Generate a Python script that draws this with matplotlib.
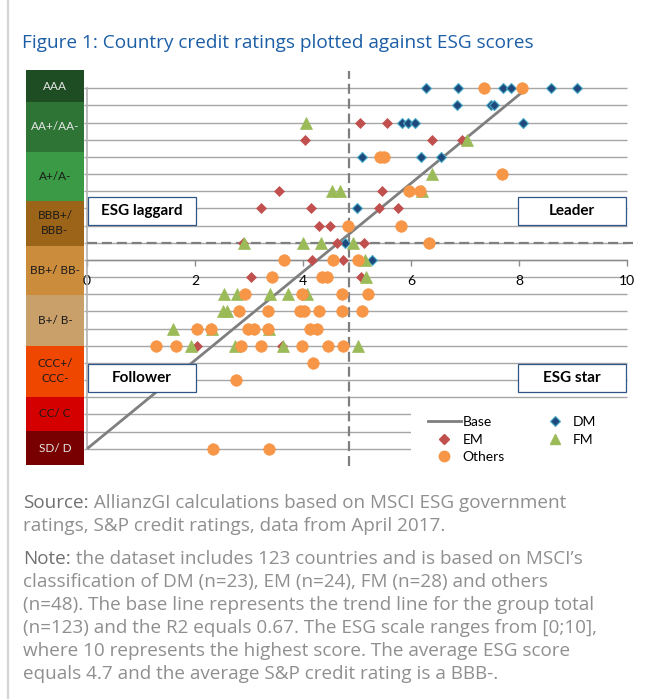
import matplotlib
matplotlib.use("Agg")
import matplotlib.pyplot as plt
from matplotlib.lines import Line2D
from matplotlib.patches import Rectangle

W, H, DPI = 646, 699, 100

# credit rating scale: SD/D = 0 ... AAA = 21, ESG score on x
dm_esg = [6.28, 6.87, 7.70, 7.85, 8.60, 9.07,
          6.86, 7.49, 7.54,
          5.83, 5.95, 6.07, 8.07,
          5.09, 6.18, 6.56,
          5.00, 4.78, 5.28]
dm_rating = [21, 21, 21, 21, 21, 21,
             20, 20, 20,
             19, 19, 19, 19,
             17, 17, 17,
             14, 12, 11]

em_esg = [5.06, 5.55,
          4.04, 6.38, 6.94,
          3.55, 5.46,
          3.22, 4.14, 5.41, 5.76,
          4.30, 4.50,
          2.89, 4.63, 5.13,
          4.17, 4.74,
          3.04, 5.07,
          2.04, 3.61]
em_rating = [19, 19,
             18, 18, 18,
             15, 15,
             14, 14, 14, 14,
             13, 13,
             12, 12, 12,
             11, 11,
             10, 10,
             6, 6]

fm_esg = [4.05, 7.03, 6.38,
          4.53, 4.68, 6.20,
          2.90, 4.00, 4.33, 4.93,
          5.15, 5.16,
          2.54, 2.77, 3.39, 3.73, 4.07,
          2.52, 2.60,
          1.59, 2.32, 3.37,
          1.93, 2.74, 3.63, 5.02]
fm_rating = [19, 18, 16,
             15, 15, 15,
             12, 12, 12, 12,
             11, 10,
             9, 9, 9, 9, 9,
             8, 8,
             7, 7, 7,
             6, 6, 6, 6]

oth_esg = [7.35, 8.05,
           5.43, 5.50,
           7.68,
           5.97, 6.17,
           4.83, 5.81,
           6.33,
           3.65, 4.55, 5.02,
           3.42, 4.35, 4.45,
           2.93, 3.98, 4.72, 5.20,
           2.81, 3.35, 3.94, 4.02, 4.30, 4.72, 5.09,
           2.04, 2.29, 2.98, 3.10, 3.35, 4.13, 4.25,
           1.28, 1.65, 2.85, 3.22, 3.98, 4.46, 4.74,
           4.19, 2.76,
           2.33, 3.37]
oth_rating = [21, 21,
              17, 17,
              16,
              15, 15,
              13, 13,
              12,
              11, 11, 11,
              10, 10, 10,
              9, 9, 9, 9,
              8, 8, 8, 8, 8, 8, 8,
              7, 7, 7, 7, 7, 7, 7,
              6, 6, 6, 6, 6, 6, 6,
              5, 4,
              0, 0]

base_esg = [0.0, 8.15]
base_rating = [0, 21]

avg_esg = 4.86
avg_rating = 12

rating_levels = list(range(22))
x_ticks = [0, 2, 4, 6, 8, 10]

band_labels = ["SD/ D", "CC/ C", "CCC+/\nCCC-", "B+/ B-", "BB+/ BB-",
               "BBB+/\nBBB-", "A+/A-", "AA+/AA-", "AAA"]
band_edges = [-0.97, 1.06, 3.04, 6.01, 8.94, 11.83, 14.43, 17.29, 20.2, 22.05]
band_colors = ["#780000", "#d40000", "#ef4600", "#c99f6a", "#cb8c3c",
               "#9c6418", "#3b9a46", "#2e7535", "#1e4d24"]
band_text = ["#e6e6e6", "#1a1a1a", "#1a1a1a", "#1a1a1a", "#1a1a1a",
             "#1a1a1a", "#1a1a1a", "#e6e6e6", "#e6e6e6"]

quadrants = [("ESG laggard", 0.02, 13.05), ("Leader", 7.98, 13.05),
             ("Follower", 0.02, 3.32), ("ESG star", 7.98, 3.32)]

title = "Figure 1: Country credit ratings plotted against ESG scores"
notes = [
    ("Source:", " AllianzGI calculations based on MSCI ESG government"),
    ("", "ratings, S&P credit ratings, data from April 2017."),
    ("Note:", " the dataset includes 123 countries and is based on MSCI\u2019s"),
    ("", "classification of DM (n=23), EM (n=24), FM (n=28) and others"),
    ("", "(n=48). The base line represents the trend line for the group total"),
    ("", "(n=123) and the R2 equals 0.67. The ESG scale ranges from [0;10],"),
    ("", "where 10 represents the highest score. The average ESG score"),
    ("", "equals 4.7 and the average S&P credit rating is a BBB-."),
]
note_y = [503, 526, 559, 582, 605, 628, 651, 674]

CHART_FONT = "Lato"
TEXT_FONT = "Open Sans"
NOTE_SIZE = 13.6
GRID = "#a6a6a6"


def px_box(left, top, right, bottom):
    return [left / W, 1 - bottom / H, (right - left) / W, (bottom - top) / H]


fig = plt.figure(figsize=(W / DPI, H / DPI), dpi=DPI)
fig.patch.set_facecolor("white")

bg = fig.add_axes([0, 0, 1, 1], zorder=0)
bg.set_xlim(0, W)
bg.set_ylim(H, 0)
bg.axis("off")
bg.plot([8, 8], [0, H], color="#d4d4d4", lw=1.6)

bg.text(22, 43, title, color="#1b5ea6", fontsize=13.7, va="center",
        family=TEXT_FONT)

for (head, tail), y in zip(notes, note_y):
    if head:
        t = bg.text(23, y, head, color="#707070", fontsize=NOTE_SIZE,
                    va="center", family=TEXT_FONT)
        bg.annotate(tail, xy=(1, 0), xycoords=t, ha="left", va="bottom",
                    color="#8f8f8f", fontsize=NOTE_SIZE, family=TEXT_FONT)
    else:
        bg.text(23, y, tail, color="#8f8f8f", fontsize=NOTE_SIZE,
                va="center", family=TEXT_FONT)

# rating colour bands on the left
cax = fig.add_axes(px_box(26, 71, 84, 466), zorder=1)
cax.set_xlim(0, 1)
cax.set_ylim(-1, 22)
cax.axis("off")
heights = [hi - lo for lo, hi in zip(band_edges[:-1], band_edges[1:])]
bars = cax.bar(0.5, heights, bottom=band_edges[:-1], width=1.0,
               color=band_colors, linewidth=0)
for b in bars:
    b.set_clip_on(False)
for lbl, lo, hi, tc in zip(band_labels, band_edges[:-1], band_edges[1:],
                           band_text):
    cax.text(0.5, (lo + hi) / 2, lbl, ha="center", va="center", color=tc,
             fontsize=8.5, family=CHART_FONT, linespacing=1.45)

# main scatter axes
ax = fig.add_axes(px_box(87, 71, 87 + 10.2 * 54, 466), zorder=2)
ax.patch.set_alpha(0)
ax.set_xlim(0, 10.2)
ax.set_ylim(-1, 22)

ax.hlines(rating_levels, 0, 10, color=GRID, lw=1.0, zorder=1)
ax.add_patch(Rectangle((6.0, -1), 4.2, 3.62, facecolor="white",
                       edgecolor="none", zorder=1.5))

for side in ("top", "right"):
    ax.spines[side].set_visible(False)
ax.spines["left"].set_bounds(0, 21)
ax.spines["left"].set_color("#b3b3b3")
ax.spines["left"].set_linewidth(1.2)
ax.spines["bottom"].set_position(("data", 11))
ax.spines["bottom"].set_bounds(0, 10)
ax.spines["bottom"].set_color("#8c8c8c")
ax.spines["bottom"].set_linewidth(1.0)

ax.set_yticks(rating_levels)
ax.tick_params(axis="y", direction="out", length=2.5, color=GRID,
               width=1.0, labelleft=False)
ax.set_xticks(x_ticks)
ax.set_xticklabels([str(v) for v in x_ticks])
ax.tick_params(axis="x", direction="out", length=4, color="#8c8c8c",
               width=1.0, labelsize=10, pad=7)
for lab in ax.get_xticklabels():
    lab.set_family(CHART_FONT)

dash = (0, (4.5, 2.2))
ax.axvline(avg_esg, color="#7f7f7f", lw=1.6, ls=dash, zorder=3)
ax.axhline(avg_rating, color="#7f7f7f", lw=1.6, ls=dash, zorder=3)

ax.plot(base_esg, base_rating, color="#7f7f7f", lw=2.0,
        solid_capstyle="butt", zorder=4)

ax.plot(dm_esg, dm_rating, ls="none", marker="D", ms=5.6, mfc="#1f497d",
        mec="#4bacc6", mew=0.8, zorder=5)
ax.plot(em_esg, em_rating, ls="none", marker="D", ms=5.6, mfc="#c0504d",
        mec="#c0504d", mew=0.5, zorder=6)
ax.plot(fm_esg, fm_rating, ls="none", marker="^", ms=8, mfc="#9bbb59",
        mec="#9bbb59", mew=0.5, zorder=7)
ax.plot(oth_esg, oth_rating, ls="none", marker="o", ms=8.3, mfc="#f79646",
        mec="#f79646", mew=0.5, zorder=8)

for label, x0, y0 in quadrants:
    ax.add_patch(Rectangle((x0, y0), 2.0, 1.62, facecolor="white",
                           edgecolor="#2f5589", lw=0.9, zorder=9))
    ax.text(x0 + 1.0, y0 + 0.81, label, ha="center", va="center",
            fontsize=11, fontweight="bold", family=CHART_FONT, zorder=10)

handles = [
    Line2D([], [], color="#7f7f7f", lw=2.0),
    Line2D([], [], ls="none", marker="D", ms=5, mfc="#c0504d", mec="#c0504d"),
    Line2D([], [], ls="none", marker="o", ms=7.5, mfc="#f79646", mec="#f79646"),
    Line2D([], [], ls="none", marker="D", ms=5, mfc="#1f497d", mec="#4bacc6",
           mew=0.8),
    Line2D([], [], ls="none", marker="^", ms=7, mfc="#9bbb59", mec="#9bbb59"),
]
labels = ["Base", "EM", "Others", "DM", "FM"]
leg = ax.legend(handles, labels, ncol=2, frameon=False,
                loc="upper left",
                bbox_to_anchor=(428 / W, 1 - 416 / H),
                bbox_transform=fig.transFigure,
                borderaxespad=0, borderpad=0,
                handlelength=2.35, handletextpad=0.15,
                columnspacing=2.4, labelspacing=0.4,
                prop={"family": CHART_FONT, "size": 10})
leg.set_zorder(11)

fig.savefig("out.png", dpi=DPI, facecolor="white")
